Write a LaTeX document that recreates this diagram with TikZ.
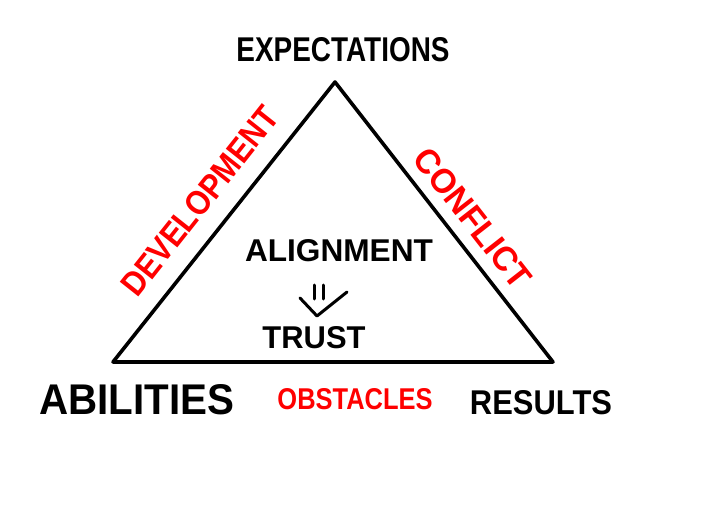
\documentclass[tikz,border=0pt]{standalone}
\usepackage{fontspec}
\setmainfont{Liberation Sans}
\usepackage{graphicx}
\begin{document}
\begin{tikzpicture}[x=1pt,y=-1pt,
  lbl/.style={inner sep=0pt, outer sep=0pt, font=\bfseries},
  blk/.style={lbl, text=black},
  redl/.style={lbl, text=red},
  edge/.style={line width=3.6pt, line join=round, line cap=round},
  pen/.style={line width=3pt, line cap=round, line join=round}]
\useasboundingbox (0,0) rectangle (702,516);
\fill[white] (0,0) rectangle (702,516);
\coordinate (A) at (113,362);
\coordinate (E) at (335,82);
\coordinate (R) at (553,362);
\draw[edge] (A) -- (E) -- (R) -- cycle;
\node[blk] (exp) at (343,50) {\resizebox{213pt}{24pt}{EXPECTATIONS}};
\node[redl, rotate=51.6] (dev) at (200,201) {\resizebox{231pt}{24pt}{DEVELOPMENT}};
\node[redl, rotate=-52] (con) at (473,218) {\resizebox{168pt}{24pt}{CONFLICT}};
\node[blk] (ali) at (339,251) {\resizebox{188pt}{22pt}{ALIGNMENT}};
\node[blk] (tru) at (314,338) {\resizebox{103pt}{22pt}{TRUST}};
\node[blk] (abi) at (137,400) {\resizebox{195pt}{30pt}{ABILITIES}};
\node[redl] (obs) at (355,399) {\resizebox{155pt}{21pt}{OBSTACLES}};
\node[blk] (res) at (541,403) {\resizebox{142pt}{24pt}{RESULTS}};
% implication symbol
\draw[pen] (314,285) -- (314,299);
\draw[pen] (323,285) -- (323,299);
\draw[pen] (300,298) -- (317,316) -- (347,292);
\end{tikzpicture}
\end{document}
